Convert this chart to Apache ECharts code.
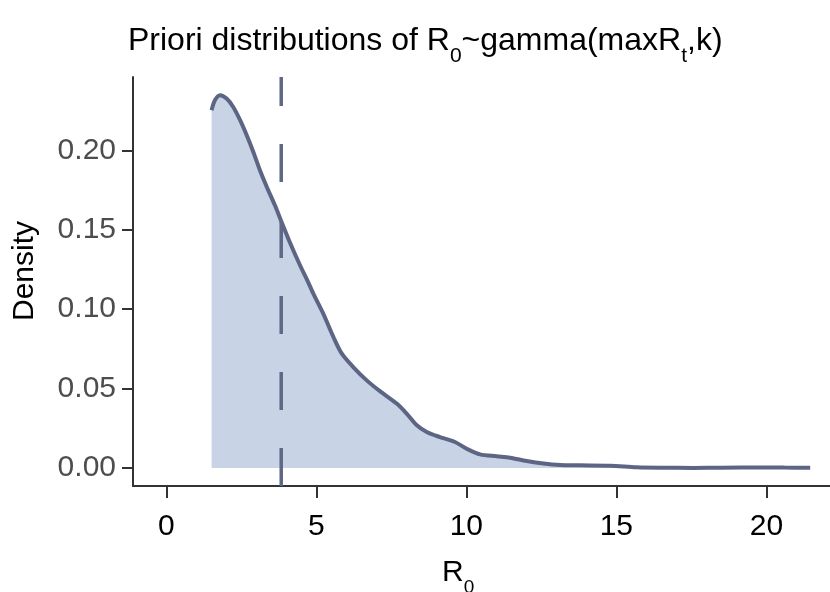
<!DOCTYPE html>
<html>
<head>
<meta charset="utf-8">
<script src="https://cdn.jsdelivr.net/npm/echarts@6/dist/echarts.min.js"></script>
<style>
html,body{margin:0;padding:0;background:#fff;}
#chart{width:830px;height:592px;}
</style>
</head>
<body>
<div id="chart"></div>
<script>
// R0 values (x) and density (y)
const r0Values = [1.51,1.62,1.79,2.01,2.23,2.46,2.68,2.90,3.12,3.35,3.62,3.85,4.12,4.46,4.68,4.90,5.23,5.57,5.85,6.23,6.68,7.12,7.68,8.01,8.35,8.68,9.12,9.62,10.01,10.46,11.01,11.46,12.01,12.57,13.12,13.79,14.79,15.68,16.5,17.57,18.5,19.79,20.6,21.46];
const densityValues = [0.2253,0.2315,0.2347,0.2326,0.2273,0.2190,0.2095,0.1990,0.1875,0.1770,0.1654,0.1545,0.1420,0.1275,0.1190,0.1098,0.0972,0.0825,0.0720,0.0636,0.0552,0.0484,0.0406,0.0343,0.0269,0.0227,0.0195,0.0164,0.0122,0.0086,0.0074,0.0065,0.0044,0.0028,0.0019,0.0017,0.0015,0.0005,0.0002,0.0001,0.0002,0.0004,0.0003,0.0002];
const refLineX = 3.83;
const xTicks = [0,5,10,15,20];
const yTicks = [0,0.05,0.10,0.15,0.20];
const xRange = [-1.11, 22.12];
const yRange = [-0.0113, 0.2462];

const chart = echarts.init(document.getElementById('chart'), null, {renderer:'canvas'});
const font = 'Liberation Sans, Arial, sans-serif';
const curve = r0Values.map((x,i)=>[x, densityValues[i]]);

const richMain = {fontSize:30, lineHeight:30, verticalAlign:'top', fontFamily:font, fill:'#000'};
const richSub = {fontSize:19, lineHeight:20, verticalAlign:'top', padding:[20,0,0,0], fontFamily:font, fill:'#000'};
const titleMain = {fontSize:32, lineHeight:32, verticalAlign:'top', fontFamily:font, fill:'#000'};
const titleSub = {fontSize:21, lineHeight:20, verticalAlign:'top', padding:[21,0,0,0], fontFamily:font, fill:'#000'};

chart.setOption({
  animation:false,
  backgroundColor:'#fff',
  grid:{left:133, right:0, top:77, bottom:106},
  xAxis:{
    type:'value', min:xRange[0], max:xRange[1],
    splitLine:{show:false},
    axisLine:{onZero:false, lineStyle:{color:'#333', width:2}},
    axisTick:{show:true, length:12, lineStyle:{color:'#333', width:2}, customValues:xTicks},
    axisLabel:{customValues:xTicks, fontSize:30, color:'#000', fontFamily:font, margin:26}
  },
  yAxis:{
    type:'value', min:yRange[0], max:yRange[1],
    splitLine:{show:false},
    axisLine:{show:true, onZero:false, lineStyle:{color:'#333', width:2}},
    axisTick:{show:true, length:11, lineStyle:{color:'#333', width:2}, customValues:yTicks},
    axisLabel:{customValues:yTicks, fontSize:30, color:'#4d4d4d', fontFamily:font, margin:17,
      padding:[7,0,0,0], formatter:v=>v.toFixed(2)}
  },
  series:[
    {
      type:'line', data:curve, smooth:0.3, showSymbol:false, symbol:'none',
      lineStyle:{color:'#5c6584', width:4},
      areaStyle:{color:'#c8d4e5', opacity:1},
      z:2
    },
    {
      type:'line', data:[[refLineX, yRange[0]],[refLineX, yRange[1]]], showSymbol:false, symbol:'none',
      lineStyle:{color:'#5e6784', width:3.5, type:[38,38]},
      z:3
    }
  ],
  graphic:[
    {type:'text', left:128, top:25, style:{
      text:'{m|Priori distributions of R}{s|0}{m|~gamma(maxR}{s|t}{m|,k)}',
      rich:{m:titleMain, s:titleSub}
    }},
    {type:'text', x:442, y:558, style:{
      text:'{m|R}{s|0}', rich:{m:richMain, s:richSub}
    }},
    {type:'text', x:25, y:271, rotation:Math.PI/2, style:{
      text:'Density', fontSize:30, fontFamily:font, fill:'#000', align:'center', verticalAlign:'middle'
    }}
  ]
});
</script>
</body>
</html>
